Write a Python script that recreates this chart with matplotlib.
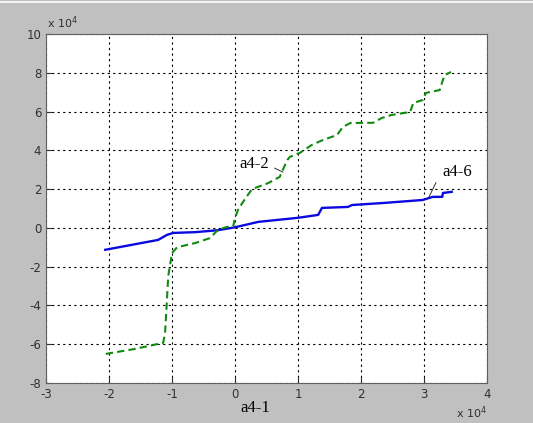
import numpy as np
import matplotlib
matplotlib.use("Agg")
import matplotlib.pyplot as plt
from matplotlib.lines import Line2D

# values in units of 1e4
a42_x = [-2.05, -1.6, -1.14, -1.11, -1.08, -1.06, -1.0, -0.92, -0.63, -0.40, -0.27, -0.13,
         -0.03, 0.0, 0.05, 0.16, 0.27, 0.52, 0.71, 0.76, 0.83, 0.87, 1.03, 1.22, 1.40, 1.62,
         1.71, 1.83, 2.19, 2.33, 2.48, 2.78, 2.83, 2.98, 3.03, 3.25, 3.30, 3.33, 3.43]
a42_y = [-6.5, -6.25, -5.93, -5.4, -3.7, -2.5, -1.3, -1.0, -0.78, -0.53, -0.1, 0.05,
         0.05, 0.5, 0.95, 1.5, 2.0, 2.3, 2.63, 3.0, 3.5, 3.66, 3.87, 4.28, 4.54, 4.79,
         5.2, 5.41, 5.42, 5.67, 5.82, 5.98, 6.44, 6.6, 6.96, 7.11, 7.63, 7.89, 8.04]

a46_x = [-2.06, -1.22, -1.08, -0.98, -0.63, -0.27, 0.0, 0.37, 1.0, 1.32, 1.38, 1.79,
         1.86, 2.38, 2.98, 3.14, 3.29, 3.30, 3.44]
a46_y = [-1.13, -0.62, -0.36, -0.26, -0.22, -0.12, 0.03, 0.31, 0.52, 0.67, 1.03, 1.08,
         1.18, 1.29, 1.44, 1.6, 1.6, 1.8, 1.86]

xticks = [-3, -2, -1, 0, 1, 2, 3, 4]
yticks = [-8, -6, -4, -2, 0, 2, 4, 6, 8, 10]

fig = plt.figure(figsize=(5.33, 4.23), dpi=100, facecolor='#c0c0c0')
ax = fig.add_axes([0.0863, 0.0946, 0.8274, 0.825])
ax.set_facecolor('white')

ax.plot(a46_x, a46_y, color='#0a0ae0', lw=1.7)
ax.plot(a42_x, a42_y, color='#108a10', lw=1.5, ls=(0, (3.5, 2)))

ax.set_xlim(-3, 4)
ax.set_ylim(-8, 10)
ax.set_xticks(xticks)
ax.set_yticks(yticks)
ax.set_xticklabels([str(t) for t in xticks])
ax.set_yticklabels([str(t) for t in yticks])
ax.tick_params(direction='in', labelsize=8.5, colors='#303030', length=4, top=False, right=False)
ax.grid(True, color='black', ls=(0, (2, 3)), lw=0.8)
for s in ax.spines.values():
    s.set_color('#606060')

# window border line at the top
fig.add_artist(Line2D([0, 1], [0.995, 0.995], color='white', lw=1.2, transform=fig.transFigure))

fig.text(0.088, 0.935, r'x 10$^4$', fontsize=8, color='#303030')
fig.text(0.855, 0.012, r'x 10$^4$', fontsize=8, color='#303030')

ax.text(0.30, 3.28, 'a4-2', fontsize=12, family='Liberation Serif', ha='center', va='center')
ax.plot([0.63, 0.76], [3.08, 2.88], color='#303030', lw=0.7)
ax.text(3.53, 2.90, 'a4-6', fontsize=12, family='Liberation Serif', ha='center', va='center')
ax.plot([3.19, 3.08], [2.33, 1.6], color='#303030', lw=0.7)

fig.text(0.478, 0.025, 'a4-1', fontsize=12, family='Liberation Serif', ha='center')

fig.savefig('out.png', dpi=100, facecolor=fig.get_facecolor())
